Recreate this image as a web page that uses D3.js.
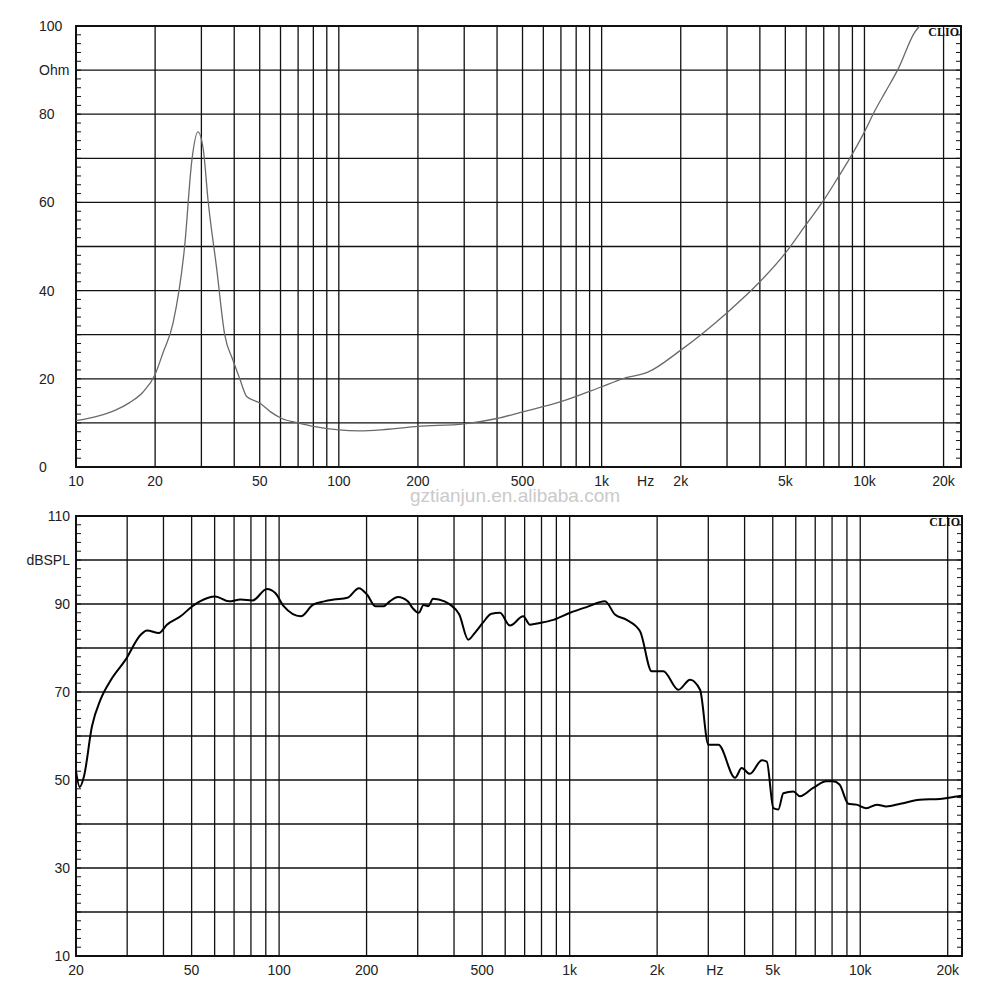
<!DOCTYPE html>
<html>
<head>
<meta charset="utf-8">
<script src="https://d3js.org/d3.v7.min.js"></script>
<style>
  body { margin: 0; background: #fff; }
  text { font-family: "Liberation Sans", Arial, sans-serif; font-size: 14px; fill: #222; }
  .grid { stroke: #111; stroke-width: 1.3px; }
  .frame { fill: none; stroke: #111; stroke-width: 2px; }
  .clio { font-family: "Liberation Serif", "DejaVu Serif", serif; font-weight: bold; font-size: 12px; fill: #111; }
</style>
</head>
<body>
<script>
// impedance curve (Hz, Ohm)
var impFreq = [10,12,14,16,18,20,21.4,23.4,25.9,27.6,29.1,30.5,31.8,34.3,36.8,39.5,42,44.6,50,55,60.7,70,80,100,120,150,200,300,400,500,700,1000,1200,1500,2000,3000,4000,5000,6000,7000,8000,9000,10000,11000,12000,13500,15500,16200];
var impOhm  = [10.5,11.5,12.8,14.6,17,21,25.8,32.6,50,69.6,76,72,60.5,45,30,24.3,20,16,14.5,12.5,11,10,9.2,8.4,8.2,8.5,9.2,9.8,11,12.5,14.8,18.2,20,21.5,26.5,35,42,48.5,55,60.5,66,71,76,81,85,90.5,98.5,100];

// SPL curve (Hz, dBSPL)
var splFreq = [20,20.6,21.3,22.7,24.3,26.4,29.6,33.4,35.1,38.6,41.1,45.8,50.3,53.4,60.3,67.2,73.7,81,90.8,97,103.7,118.8,130.6,143,154.3,171.7,188.2,201,214.4,228.7,240.5,256.4,277.2,287.8,302.6,314.2,326.2,338.7,371,388.8,417,447.6,471,502,538.3,575.6,623,692,730,790,879,1003,1144,1323,1432,1571,1747,1916,2101,2366,2597,2810,3003,3250,3709,3909,4171,4587,4769,5025,5225,5437,5889,6199,6885,7650,8057,8485,9100,9700,10500,11400,12300,13740,16000,18800,22350];
var splDb   = [52,48.4,50.8,62.2,68.3,72.8,77.3,83,84,83.4,85.3,87.2,89.5,90.6,91.7,90.6,91,90.8,93.4,92.5,89.5,87.2,89.8,90.6,91,91.4,93.6,92.1,89.5,89.5,90.6,91.6,90.6,89.1,88,89.8,89.5,91.2,90.6,89.8,87.6,81.9,83.4,85.7,87.8,88,85.1,87.2,85.3,85.7,86.4,88,89.3,90.6,87.6,86.4,83.8,74.7,74.7,70.5,72.8,70.5,58,58,50.5,52.7,51.4,54.5,54.2,43.6,43.3,47,47.4,46.3,48.2,49.7,49.7,49,44.6,44.4,43.6,44.4,44,44.6,45.5,45.7,46.4];

var topX = [10,20,50,100,200,500,"1k","Hz","2k","5k","10k","20k"];
var topXv = [10,20,50,100,200,500,1000,1470,2000,5000,10000,20000];
var topY = ["100","Ohm","80","60","40","20","0"];
var topYv = [100,90,80,60,40,20,0];
var botX = [20,50,100,200,500,"1k","2k","Hz","5k","10k","20k"];
var botXv = [20,50,100,200,500,1000,2000,3160,5000,10000,20000];
var botY = ["110","dBSPL","90","70","50","30","10"];
var botYv = [110,100,90,70,50,30,10];

var svg = d3.select("body").append("svg").attr("width", 1000).attr("height", 1000);

function gridFreqs(lo, hi) {
  var out = [];
  for (var d = 1; d <= 10000; d *= 10)
    for (var m = 1; m < 10; m++) { var f = m * d; if (f > lo && f < hi) out.push(f); }
  return out;
}

function panel(o) {
  var x = d3.scaleLog().domain(o.xd).range([76, o.right]);
  var y = d3.scaleLinear().domain(o.yd).range([o.bottom, o.top]);
  var g = svg.append("g");
  g.selectAll(".vg").data(gridFreqs(o.xd[0], o.xd[1])).enter().append("line")
    .attr("class", "grid").attr("x1", d => x(d)).attr("x2", d => x(d))
    .attr("y1", o.top).attr("y2", o.bottom);
  g.selectAll(".hg").data(d3.range(o.yd[0] + 10, o.yd[1], 10)).enter().append("line")
    .attr("class", "grid").attr("y1", d => y(d)).attr("y2", d => y(d))
    .attr("x1", 76).attr("x2", o.right);
  var minor = d3.range(o.yd[0] + 2, o.yd[1], 2);
  [76, o.right].forEach(function(ex, i) {
    g.selectAll(".mt" + i).data(minor).enter().append("line")
      .attr("stroke", "#111").attr("stroke-width", 1)
      .attr("x1", ex).attr("x2", i ? ex - 5 : ex + 5)
      .attr("y1", d => y(d)).attr("y2", d => y(d));
  });
  g.append("rect").attr("class", "frame").attr("x", 76).attr("y", o.top)
    .attr("width", o.right - 76).attr("height", o.bottom - o.top);
  var line = d3.line().curve(d3.curveMonotoneX).x(d => x(d[0])).y(d => y(d[1]));
  g.append("path").datum(d3.zip(o.fx, o.fy)).attr("d", line)
    .attr("fill", "none").attr("stroke", o.color).attr("stroke-width", o.lw)
    .attr("stroke-linejoin", "round");
  g.selectAll(".xl").data(o.xl).enter().append("text")
    .attr("x", (d, i) => x(o.xlv[i])).attr("y", o.bottom + 19)
    .attr("text-anchor", "middle").text(d => d);
  g.selectAll(".yl").data(o.yl).enter().append("text")
    .attr("x", o.ylx).attr("y", (d, i) => y(o.ylv[i]) + 5)
    .attr("text-anchor", o.ylAnchor).text(d => d);
  g.append("text").attr("class", "clio").attr("x", o.right - 2).attr("y", o.top + 10)
    .attr("text-anchor", "end").text("CLIO");
}

panel({ xd: [10, 23300], yd: [0, 100], right: 961, top: 26, bottom: 467,
  fx: impFreq, fy: impOhm, color: "#6a6a6a", lw: 1.3,
  xl: topX, xlv: topXv, yl: topY, ylv: topYv, ylx: 39, ylAnchor: "start" });
panel({ xd: [20, 22400], yd: [10, 110], right: 962, top: 516, bottom: 956,
  fx: splFreq, fy: splDb, color: "#000", lw: 2,
  xl: botX, xlv: botXv, yl: botY, ylv: botYv, ylx: 70, ylAnchor: "end" });

svg.append("text").attr("x", 515).attr("y", 502).attr("text-anchor", "middle")
  .style("font-size", "19px").style("fill", "#cacaca").text("gztianjun.en.alibaba.com");
</script>
</body>
</html>
